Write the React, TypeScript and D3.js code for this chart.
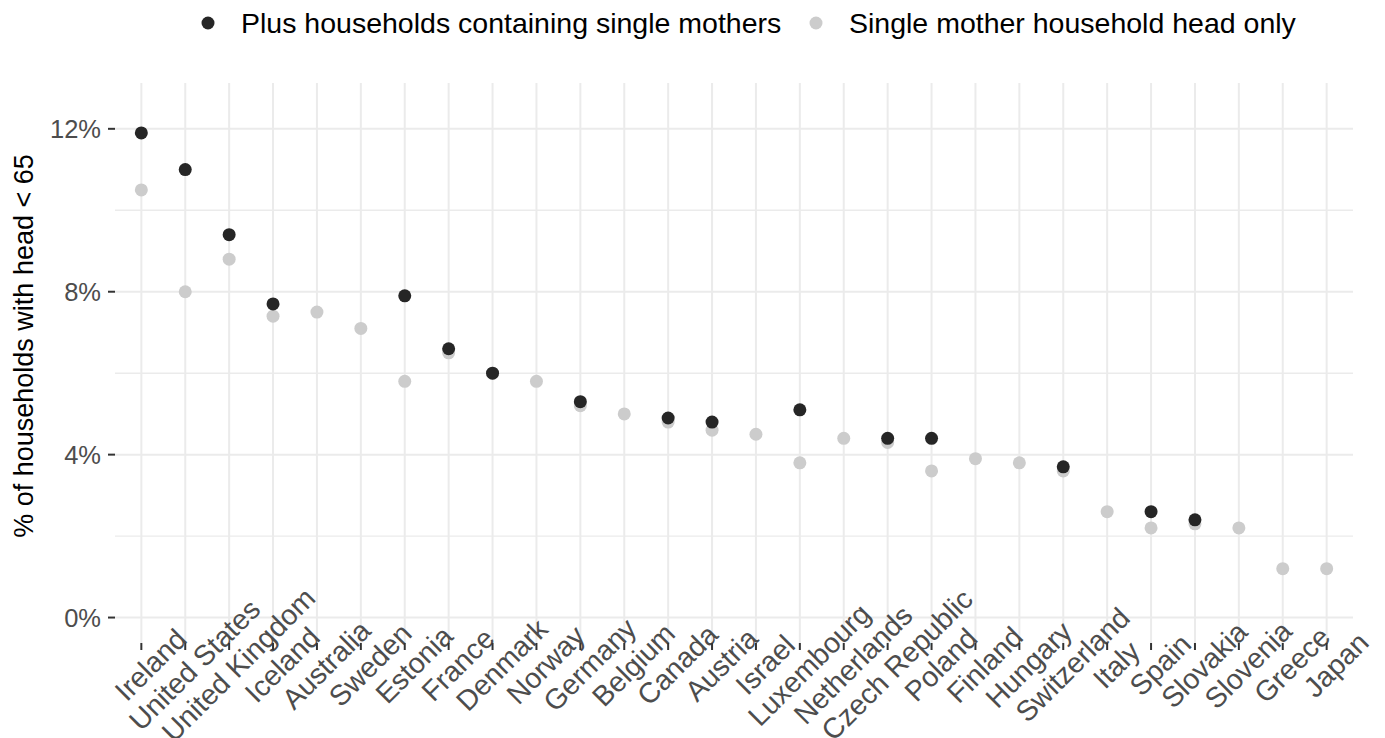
import React from "react";
import * as d3 from "d3";

const countries = [
  "Ireland", "United States", "United Kingdom", "Iceland", "Australia", "Sweden",
  "Estonia", "France", "Denmark", "Norway", "Germany", "Belgium", "Canada",
  "Austria", "Israel", "Luxembourg", "Netherlands", "Czech Republic", "Poland",
  "Finland", "Hungary", "Switzerland", "Italy", "Spain", "Slovakia", "Slovenia",
  "Greece", "Japan",
];

// Plus households containing single mothers (dark)
const plusValues: (number | null)[] = [
  11.9, 11.0, 9.4, 7.7, null, null,
  7.9, 6.6, 6.0, null, 5.3, null, 4.9,
  4.8, null, 5.1, null, 4.4, 4.4,
  null, null, 3.7, null, 2.6, 2.4, null,
  null, null,
];

// Single mother household head only (light)
const headOnlyValues: (number | null)[] = [
  10.5, 8.0, 8.8, 7.4, 7.5, 7.1,
  5.8, 6.5, 6.0, 5.8, 5.2, 5.0, 4.8,
  4.6, 4.5, 3.8, 4.4, 4.3, 3.6,
  3.9, 3.8, 3.6, 2.6, 2.2, 2.3, 2.2,
  1.2, 1.2,
];

const yMajorTicks = [0, 4, 8, 12];
const yMinorTicks = [2, 6, 10];
const legendLabels = ["Plus households containing single mothers", "Single mother household head only"];
const yTitle = "% of households with head < 65";

const W = 1385;
const H = 738;
const panel = { left: 115, right: 1353, top: 83, bottom: 643 };
const DARK = "#262626";
const LIGHT = "#CCCCCC";
const GRID = "#EBEBEB";
const FONT = "'Liberation Sans', Arial, Helvetica, sans-serif";

export default function App() {
  const x = d3.scalePoint<string>().domain(countries).range([panel.left, panel.right]).padding(0.6);
  const y = d3.scaleLinear().domain([-0.625, 13.125]).range([panel.bottom, panel.top]);
  const fmt = (v: number) => `${v}%`;

  return (
    <svg width={W} height={H} style={{ position: "absolute", left: 0, top: 0, background: "#fff" }} fontFamily={FONT}>
      <rect x={0} y={0} width={W} height={H} fill="#fff" />
      {yMinorTicks.map((t) => (
        <line key={"mn" + t} x1={panel.left} x2={panel.right} y1={y(t)} y2={y(t)} stroke={GRID} strokeWidth={1.4} />
      ))}
      {yMajorTicks.map((t) => (
        <line key={"mj" + t} x1={panel.left} x2={panel.right} y1={y(t)} y2={y(t)} stroke={GRID} strokeWidth={2} />
      ))}
      {countries.map((c) => (
        <line key={"vg" + c} x1={x(c)} x2={x(c)} y1={panel.top} y2={panel.bottom} stroke={GRID} strokeWidth={2} />
      ))}
      {yMajorTicks.map((t) => (
        <g key={"yt" + t}>
          <line x1={108} x2={115} y1={y(t)} y2={y(t)} stroke="#333" strokeWidth={2} />
          <text x={101} y={y(t)} dy="0.36em" textAnchor="end" fontSize={25.5} fill="#4D4D4D">
            {fmt(t)}
          </text>
        </g>
      ))}
      {countries.map((c) => (
        <g key={"xt" + c}>
          <line x1={x(c)} x2={x(c)} y1={panel.bottom} y2={panel.bottom + 7} stroke="#333" strokeWidth={2} />
          <text
            transform={`translate(${(x(c) as number) + 9},664.5) rotate(-45)`}
            dy="0.36em"
            textAnchor="middle"
            fontSize={28.5}
            fill="#4D4D4D"
          >
            {c}
          </text>
        </g>
      ))}
      {countries.map((c, i) =>
        headOnlyValues[i] == null ? null : (
          <circle key={"l" + c} cx={x(c)} cy={y(headOnlyValues[i] as number)} r={6.5} fill={LIGHT} />
        )
      )}
      {countries.map((c, i) =>
        plusValues[i] == null ? null : (
          <circle key={"d" + c} cx={x(c)} cy={y(plusValues[i] as number)} r={6.5} fill={DARK} />
        )
      )}
      <text transform={`translate(33,346) rotate(-90)`} textAnchor="middle" fontSize={27} fill="#000">
        {yTitle}
      </text>
      <circle cx={208} cy={23} r={6.5} fill={DARK} />
      <text x={241} y={23} dy="0.36em" fontSize={28.5} fill="#000">{legendLabels[0]}</text>
      <circle cx={816} cy={23} r={6.5} fill={LIGHT} />
      <text x={849} y={23} dy="0.36em" fontSize={28.5} fill="#000">{legendLabels[1]}</text>
    </svg>
  );
}
